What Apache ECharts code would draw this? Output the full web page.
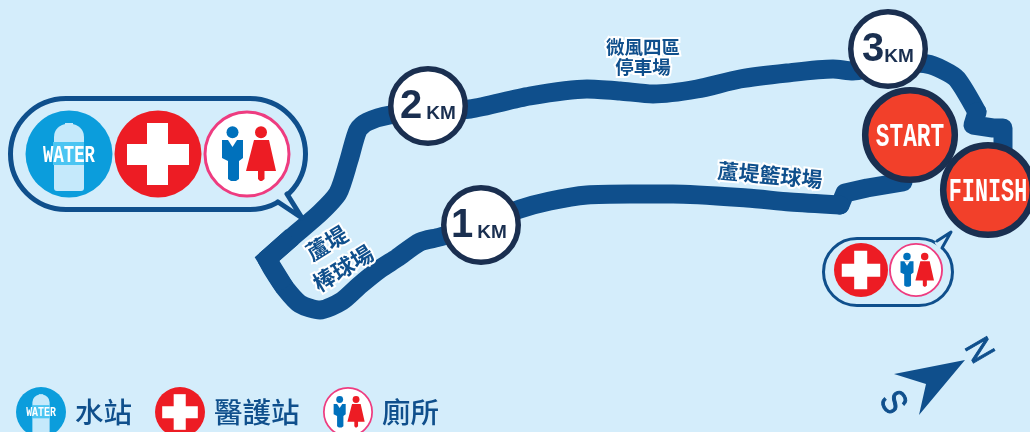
<!DOCTYPE html>
<html><head><meta charset="utf-8">
<style>html,body{margin:0;padding:0;background:#d4edfb;overflow:hidden}#c{width:1030px;height:432px}</style>
<script src="https://cdn.jsdelivr.net/npm/echarts@6/dist/echarts.min.js"></script>
</head><body><div id="c"></div>
<script>
const routeLegStart = [[903,182],[885,185],[867,188],[845,193],[840,205]];
const routeLegToCorner = [[840,205],[790,202],[747,198],[673,194],[630,194],[587,195],[550,201],[520,209],[481,224],[440,237],[420,242],[397,258],[380,269],[360,285],[342,301],[320,310],[300,304],[285,288],[273,270],[267,259]];
const routeLegToThree = [[267,259],[292,237],[320,213],[338,193],[349,160],[358,130],[367,122],[390,115],[428,112],[470,109],[530,96],[587,89],[620,91],[653,94],[697,89],[740,79],[787,73],[833,69],[853,71],[888,62]];
const routeLegToKnob = [[888,62],[927,64],[943,70],[957,79],[977,112]];
const routeLegFinish = [[977,112],[973,125],[993,128],[1003,128],[1003,150],[990,185]];
const cornerPoints = [[285,288],[267,259],[292,237]];
const kmMarks = [{n:'1',x:481,y:225,dx:-19,kx:11},{n:'2',x:428,y:106,dx:-17,kx:13},{n:'3',x:888,y:49,dx:-15,kx:11}];
const endMarks = [{t:'START',x:910,y:135,sx:0.69},{t:'FINISH',x:988,y:190,sx:0.66}];
const icons = [['water',69,154,43.5],['aid',158,154,43.5],['wc',247,154,43.5],['aid',861,270,27],['wc',916,270,27],['water',41,412,25],['aid',180,412,25],['wc',348,412,25]];
const bubbles = [{x:8,y:96,w:300,h:116,sw:5,tail:[[278,202],[302,218],[287,194]]},{x:822,y:237,w:132,h:70,sw:3,tail:[[937,241],[951,232],[942,248]]}];
const placeLabels = [['微風四區',643,47,18.5,0],['停車場',643,67,18.5,0],['蘆堤籃球場',770,175,21,-0.09],['蘆堤',327,243,22,0.55],['棒球場',343,268,22,0.55]];
const legendLabels = [['水站',75],['醫護站',214],['廁所',382]];
const compassArrow = [[965,360],[894,374],[926,384],[919,415]];
const compassLetters = [['N',978,351],['S',892,403]];

const BG='#d4edfb',ROUTE='#0f4f8c',DARK='#1a2f50',RED='#ed1c24',ORANGE='#f2402a';
const CJK='"Noto Sans CJK TC"', SANS='"Liberation Sans"', COND='"Liberation Mono"';

function px(api,p){return api.coord(p);}
function iconEl(kind,c,r){
  const s=r/43.5, P=(a,b)=>[c[0]+a*s,c[1]+b*s], ch=[];
  if(kind==='water'){
    ch.push({type:'circle',shape:{cx:c[0],cy:c[1],r:r},style:{fill:'#0b9ddc'}});
    ch.push({type:'rect',shape:{x:c[0]-15*s,y:c[1]-30*s,width:30*s,height:67*s,r:[13*s,13*s,3*s,3*s]},style:{fill:'#c5e9fb'}});
    ch.push({type:'rect',shape:{x:c[0]-4*s,y:c[1]-31*s,width:8*s,height:3*s},style:{fill:'#c5e9fb'}});
    ch.push({type:'rect',shape:{x:c[0]-16*s,y:c[1]-12*s,width:31*s,height:23*s},style:{fill:'#4cc5f2'}});
    ch.push({type:'text',x:c[0],y:c[1]+2*s,scaleX:0.75,style:{text:'WATER',x:0,y:0,fill:'#fff',font:'bold '+(23*s)+'px '+COND,align:'center',verticalAlign:'middle'}});
  } else if(kind==='aid'){
    ch.push({type:'circle',shape:{cx:c[0],cy:c[1],r:r},style:{fill:RED}});
    ch.push({type:'rect',shape:{x:c[0]-31*s,y:c[1]-10*s,width:62*s,height:21*s},style:{fill:'#fff'}});
    ch.push({type:'rect',shape:{x:c[0]-11*s,y:c[1]-31*s,width:21*s,height:62*s},style:{fill:'#fff'}});
  } else {
    const lw=Math.max(1.6,3*s);
    ch.push({type:'circle',shape:{cx:c[0],cy:c[1],r:r-lw/2},style:{fill:'#fff',stroke:'#ee3c80',lineWidth:lw}});
    ch.push({type:'circle',shape:{cx:c[0]-14.5*s,cy:c[1]-21.7*s,r:6*s},style:{fill:'#0071bc'}});
    ch.push({type:'polygon',shape:{points:[P(-25,-14),P(-4,-14),P(-4,4),P(-8,7),P(-8,25),P(-11,27),P(-16,27),P(-19,25),P(-19,7),P(-25,4)]},style:{fill:'#0071bc'}});
    ch.push({type:'polygon',shape:{points:[P(-19,-14),P(-10,-14),P(-14.5,-7)]},style:{fill:'#fff'}});
    ch.push({type:'circle',shape:{cx:c[0]+14*s,cy:c[1]-21.7*s,r:6*s},style:{fill:RED}});
    ch.push({type:'polygon',shape:{points:[P(7,-14),P(22,-14),P(29,17),P(17.5,17),P(17.5,25),P(15,27),P(13,27),P(11,25),P(11,17),P(-1,17)]},style:{fill:RED}});
  }
  return {type:'group',children:ch};
}
function leg(data,smooth){return {type:'line',data:data,showSymbol:false,smooth:smooth,clip:false,z:2,lineStyle:{color:ROUTE,width:19,join:'round',cap:'round'}};}

const chart=echarts.init(document.getElementById('c'),null,{renderer:'canvas'});
chart.setOption({
  animation:false,backgroundColor:BG,
  grid:{left:0,right:0,top:0,bottom:0},
  xAxis:{type:'value',min:0,max:1030,show:false},
  yAxis:{type:'value',min:0,max:432,inverse:true,show:false},
  series:[
   leg(routeLegStart,false),leg(routeLegToCorner,0.25),leg(routeLegToThree,0.25),leg(routeLegToKnob,0.25),leg(routeLegFinish,false),
   {type:'line',data:cornerPoints,showSymbol:false,clip:false,z:2,lineStyle:{color:ROUTE,width:19,join:'miter',miterLimit:10,cap:'butt'}},
   {type:'custom',coordinateSystem:'cartesian2d',clip:false,z:3,data:bubbles.map(b=>[b.x,b.y]),
    renderItem(p,api){const b=bubbles[p.dataIndex],o=px(api,[b.x,b.y]);
      const t=b.tail.map(q=>px(api,q));
      return {type:'group',children:[
       {type:'rect',shape:{x:o[0]+b.sw/2,y:o[1]+b.sw/2,width:b.w-b.sw,height:b.h-b.sw,r:(b.h-b.sw)/2},style:{fill:'none',stroke:ROUTE,lineWidth:b.sw}},
       {type:'line',shape:{x1:t[0][0],y1:t[0][1],x2:t[2][0],y2:t[2][1]},style:{stroke:BG,lineWidth:b.sw+3}},
       {type:'polyline',shape:{points:t},style:{fill:'none',stroke:ROUTE,lineWidth:b.sw,lineJoin:'round',lineCap:'round'}}
      ]};}},
   {type:'custom',coordinateSystem:'cartesian2d',clip:false,z:4,data:icons.map(i=>[i[1],i[2]]),
    renderItem(p,api){const i=icons[p.dataIndex];return iconEl(i[0],px(api,[i[1],i[2]]),i[3]);}},
   {type:'custom',coordinateSystem:'cartesian2d',clip:false,z:5,data:kmMarks.map(m=>[m.x,m.y]),
    renderItem(p,api){const m=kmMarks[p.dataIndex],c=px(api,[m.x,m.y]);return {type:'group',children:[
      {type:'circle',shape:{cx:c[0],cy:c[1],r:37.25},style:{fill:'#fff',stroke:DARK,lineWidth:5.5}},
      {type:'text',style:{text:m.n,x:c[0]+m.dx,y:c[1]+1,fill:DARK,font:'bold 40px '+SANS,align:'center',verticalAlign:'middle'}},
      {type:'text',style:{text:'KM',x:c[0]+m.kx,y:c[1]+8,fill:DARK,font:'bold 19px '+SANS,align:'center',verticalAlign:'middle'}}
    ]};}},
   {type:'custom',coordinateSystem:'cartesian2d',clip:false,z:6,data:endMarks.map(m=>[m.x,m.y]),
    renderItem(p,api){const m=endMarks[p.dataIndex],c=px(api,[m.x,m.y]);return {type:'group',children:[
      {type:'circle',shape:{cx:c[0],cy:c[1],r:44.8},style:{fill:ORANGE,stroke:DARK,lineWidth:6.5}},
      {type:'text',x:c[0],y:c[1]+2.5,scaleX:m.sx,style:{text:m.t,x:0,y:0,fill:'#fff',font:'bold 33px '+COND,align:'center',verticalAlign:'middle'}}
    ]};}},
   {type:'custom',coordinateSystem:'cartesian2d',clip:false,z:7,data:placeLabels.map(l=>[l[1],l[2]]),
    renderItem(p,api){const l=placeLabels[p.dataIndex],c=px(api,[l[1],l[2]]);return {type:'text',x:c[0],y:c[1],rotation:l[4],
      style:{text:l[0],x:0,y:0,fill:ROUTE,stroke:'#fff',lineWidth:4,font:'bold '+l[3]+'px '+CJK,align:'center',verticalAlign:'middle'}};}},
   {type:'custom',coordinateSystem:'cartesian2d',clip:false,z:7,data:legendLabels.map(l=>[l[1],412]),
    renderItem(p,api){const l=legendLabels[p.dataIndex],c=px(api,[l[1],412]);return {type:'text',style:{text:l[0],x:c[0],y:c[1],fill:ROUTE,font:'500 28.5px '+CJK,align:'left',verticalAlign:'middle'}};}},
   {type:'custom',coordinateSystem:'cartesian2d',clip:false,z:7,data:compassArrow,
    renderItem(p,api){if(p.dataIndex)return null;return {type:'polygon',shape:{points:compassArrow.map(q=>px(api,q))},style:{fill:ROUTE}};}},
   {type:'custom',coordinateSystem:'cartesian2d',clip:false,z:7,data:compassLetters.map(l=>[l[1],l[2]]),
    renderItem(p,api){const l=compassLetters[p.dataIndex],c=px(api,[l[1],l[2]]);return {type:'text',x:c[0],y:c[1],rotation:-Math.PI/3,scaleX:0.82,
      style:{text:l[0],x:0,y:0,fill:ROUTE,stroke:ROUTE,lineWidth:1,font:'36px '+SANS,align:'center',verticalAlign:'middle'}};}}
  ]
});
</script></body></html>
